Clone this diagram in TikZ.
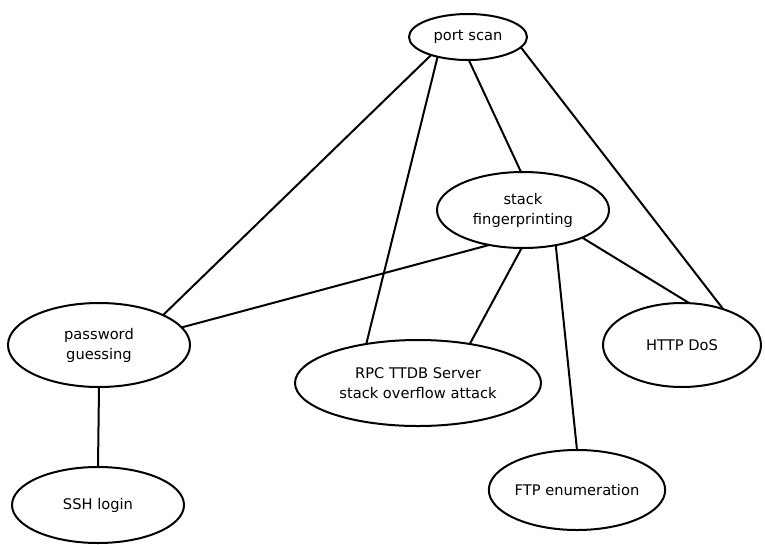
\documentclass[tikz,border=0pt]{standalone}
\usepackage{fontspec}
\setmainfont{DejaVu Sans}
\usetikzlibrary{shapes.geometric}
\begin{document}
\begin{tikzpicture}[x=0.75pt,y=-0.75pt,
  ell/.style={ellipse,draw,line width=1.5pt,inner sep=0pt,outer sep=0pt,align=center,font=\fontsize{11}{15}\selectfont},
  edge/.style={line width=1.5pt}]
\useasboundingbox (0,0) rectangle (765,544);
\node[ell,minimum width=88.5pt,minimum height=34.5pt] (ps) at (468,37) {port scan};
\node[ell,minimum width=129pt,minimum height=57pt] (sf) at (523,210) {stack\\fingerprinting};
\node[ell,minimum width=136.5pt,minimum height=63pt] (pg) at (99,345) {password\\guessing};
\node[ell,minimum width=184.5pt,minimum height=64.5pt] (rpc) at (418,383) {RPC TTDB Server\\stack overflow attack};
\node[ell,minimum width=118.5pt,minimum height=63pt] (http) at (682,345) {HTTP DoS};
\node[ell,minimum width=129pt,minimum height=60pt] (ftp) at (577,490) {FTP enumeration};
\node[ell,minimum width=129pt,minimum height=57pt] (ssh) at (98,505) {SSH login};
\draw[edge] (ps.206.6) -- (pg.25.1);
\draw[edge] (ps.213) -- (rpc.143);
\draw[edge] (ps.272) -- (sf.93);
\draw[edge] (ps.349) -- (http.41.8);
\draw[edge] (sf.226.7) -- (pg.12.2);
\draw[edge] (sf.268.5) -- (rpc.37);
\draw[edge] (sf.313.4) -- (ftp.90);
\draw[edge] (sf.335.7) -- (http.80.8);
\draw[edge] (pg.270) -- (ssh.90);
\end{tikzpicture}
\end{document}
